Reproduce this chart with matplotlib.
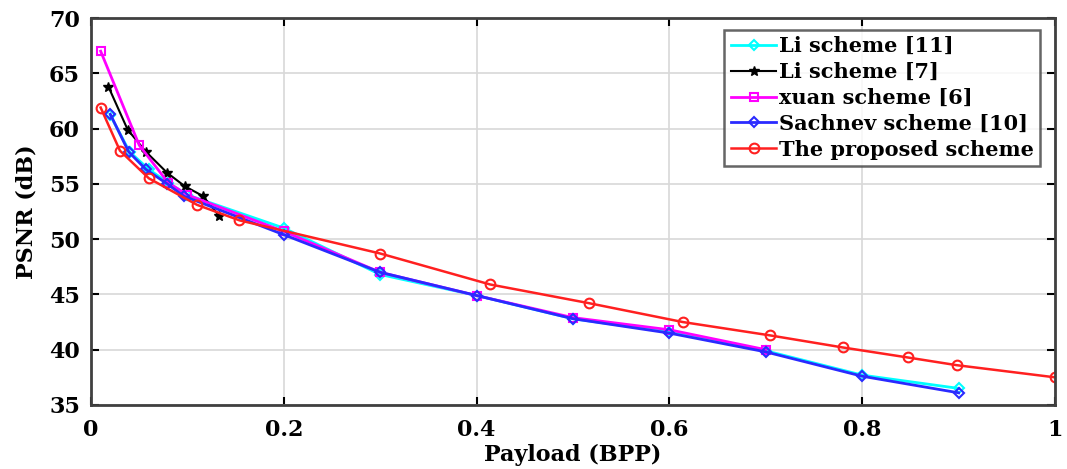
import matplotlib
matplotlib.use('Agg')
import matplotlib.pyplot as plt

# payload (bpp) / PSNR (dB)
li11_x = [0.02, 0.04, 0.06, 0.08, 0.1, 0.2, 0.3, 0.4, 0.5, 0.6, 0.7, 0.8, 0.9]
li11_y = [61.2, 57.9, 56.3, 55.1, 54.0, 51.0, 46.8, 44.9, 42.8, 41.6, 39.9, 37.7, 36.5]

li7_x = [0.018, 0.038, 0.057, 0.079, 0.097, 0.116, 0.133]
li7_y = [63.8, 59.9, 57.9, 56.0, 54.8, 53.9, 52.1]

xuan_x = [0.01, 0.05, 0.08, 0.1, 0.2, 0.3, 0.4, 0.5, 0.6, 0.7]
xuan_y = [67.0, 58.5, 55.1, 54.0, 50.7, 47.0, 44.9, 42.9, 41.8, 40.0]

sach_x = [0.02, 0.039, 0.057, 0.079, 0.096, 0.2, 0.3, 0.4, 0.5, 0.6, 0.7, 0.8, 0.9]
sach_y = [61.3, 57.9, 56.3, 55.0, 53.9, 50.4, 47.0, 44.9, 42.8, 41.5, 39.8, 37.6, 36.1]

prop_x = [0.01, 0.03, 0.06, 0.11, 0.154, 0.3, 0.414, 0.517, 0.614, 0.704, 0.78, 0.847, 0.898, 1.0]
prop_y = [61.9, 58.0, 55.5, 53.1, 51.7, 48.7, 45.9, 44.2, 42.5, 41.3, 40.2, 39.3, 38.6, 37.5]

labels = ['Li scheme [11]', 'Li scheme [7]', 'xuan scheme [6]',
          'Sachnev scheme [10]', 'The proposed scheme']

plt.rcParams['font.family'] = ['DejaVu Serif']

fig = plt.figure(figsize=(10.67, 4.69), dpi=100)
ax = fig.add_axes([0.0853, 0.1365, 0.9035, 0.8251])

ax.plot(li11_x, li11_y, color='cyan', marker='D', ms=5, lw=2, mfc='none', mew=1.5, label=labels[0])
ax.plot(li7_x, li7_y, color='black', marker='*', ms=7, lw=1.5, label=labels[1])
ax.plot(xuan_x, xuan_y, color='magenta', marker='s', ms=6, lw=2, mfc='none', mew=1.5, label=labels[2])
ax.plot(sach_x, sach_y, color='#2a2aff', marker='D', ms=5, lw=2, mfc='none', mew=1.5, label=labels[3])
ax.plot(prop_x, prop_y, color='#ff2020', marker='o', ms=7, lw=1.8, mfc='none', mew=1.5, label=labels[4])

ax.set_xlim(0, 1)
ax.set_ylim(35, 70)
ax.set_xticks([0, 0.2, 0.4, 0.6, 0.8, 1])
ax.set_xticklabels(['0', '0.2', '0.4', '0.6', '0.8', '1'])
ax.set_yticks(range(35, 71, 5))
ax.grid(True, color='#d8d8d8', lw=1.2)
ax.tick_params(direction='in', top=True, right=True, length=6, width=1.5,
               labelsize=16)
ax.tick_params(axis='x', pad=10)
ax.tick_params(axis='y', pad=8)
for lab in ax.get_xticklabels() + ax.get_yticklabels():
    lab.set_fontweight('bold')
for s in ax.spines.values():
    s.set_linewidth(2)
    s.set_color('#404040')

ax.set_xlabel('Payload (BPP)', fontsize=16, fontweight='bold', labelpad=2)
ax.set_ylabel('PSNR (dB)', fontsize=16, fontweight='bold', labelpad=8)

leg = ax.legend(loc='upper right', bbox_to_anchor=(0.984, 0.969), fontsize=15,
                frameon=True, fancybox=False, edgecolor='#404040',
                handlelength=2.2, handletextpad=0.1, labelspacing=0.28,
                borderpad=0.3, borderaxespad=0)
leg.get_frame().set_linewidth(1.8)
for t in leg.get_texts():
    t.set_fontweight('bold')

fig.savefig('out.png', dpi=100)
